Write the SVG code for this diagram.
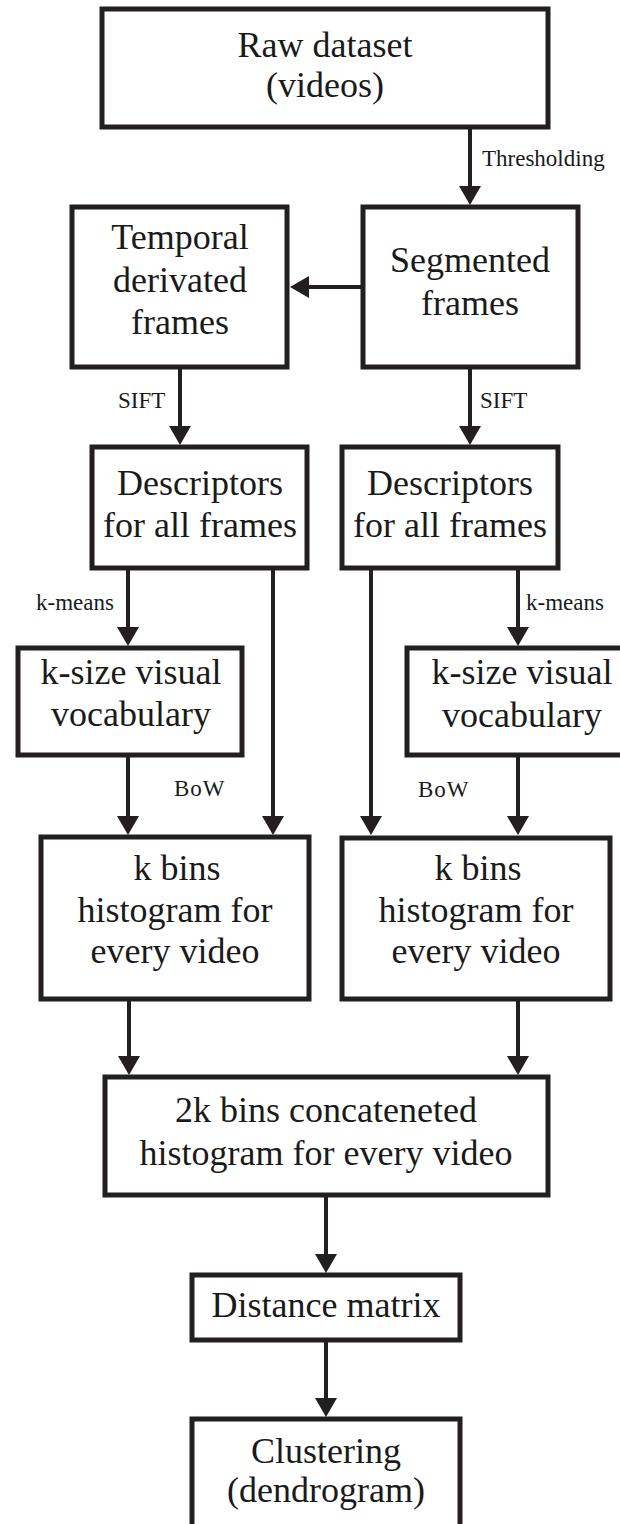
<svg xmlns="http://www.w3.org/2000/svg" width="620" height="1524" viewBox="0 0 620 1524">
  <style>
    .box { fill: #ffffff; stroke: #231f20; stroke-width: 5; }
    .wire { fill: none; stroke: #231f20; stroke-width: 4; }
    .t { font-family: "Liberation Serif", "Times New Roman", serif; font-size: 36px; fill: #1a1a1a; text-anchor: middle; }
    .lbl { font-family: "Liberation Serif", "Times New Roman", serif; font-size: 23px; fill: #1a1a1a; }
  </style>
  <defs>
    <marker id="head" viewBox="0 0 19 22" markerWidth="19" markerHeight="22" markerUnits="userSpaceOnUse" refX="1" refY="11" orient="auto">
      <path d="M0,0 L19,11 L0,22 Z" fill="#231f20"/>
    </marker>
  </defs>
  <rect width="620" height="1524" fill="#ffffff"/>

  <!-- connectors -->
  <g id="connectors">
    <line class="wire" x1="470" y1="127" x2="470" y2="187" marker-end="url(#head)"/>
    <line class="wire" x1="363" y1="287" x2="308" y2="287" marker-end="url(#head)"/>
    <line class="wire" x1="180" y1="367" x2="180" y2="427" marker-end="url(#head)"/>
    <line class="wire" x1="470" y1="367" x2="470" y2="427" marker-end="url(#head)"/>
    <line class="wire" x1="128" y1="568" x2="128" y2="628" marker-end="url(#head)"/>
    <line class="wire" x1="518" y1="568" x2="518" y2="628" marker-end="url(#head)"/>
    <line class="wire" x1="273" y1="568" x2="273" y2="817" marker-end="url(#head)"/>
    <line class="wire" x1="371" y1="568" x2="371" y2="817" marker-end="url(#head)"/>
    <line class="wire" x1="128" y1="755" x2="128" y2="817" marker-end="url(#head)"/>
    <line class="wire" x1="518" y1="755" x2="518" y2="817" marker-end="url(#head)"/>
    <line class="wire" x1="129" y1="999" x2="129" y2="1057" marker-end="url(#head)"/>
    <line class="wire" x1="518" y1="999" x2="518" y2="1057" marker-end="url(#head)"/>
    <line class="wire" x1="326" y1="1195" x2="326" y2="1255" marker-end="url(#head)"/>
    <line class="wire" x1="326" y1="1340" x2="326" y2="1399" marker-end="url(#head)"/>
    <text class="lbl" x="482" y="166">Thresholding</text>
    <text class="lbl" x="118" y="408">SIFT</text>
    <text class="lbl" x="480" y="408">SIFT</text>
    <text class="lbl" x="36" y="610">k-means</text>
    <text class="lbl" x="526" y="610">k-means</text>
    <text class="lbl" x="174" y="796" letter-spacing="1">BoW</text>
    <text class="lbl" x="418" y="797" letter-spacing="1">BoW</text>
  </g>

  <g id="raw">
    <rect class="box" x="102" y="9" width="446" height="118"/>
    <text class="t" x="325" y="57">Raw dataset</text>
    <text class="t" x="325" y="97">(videos)</text>
  </g>

  <g id="temporal">
    <rect class="box" x="72" y="207" width="215" height="160"/>
    <text class="t" x="180" y="249">Temporal</text>
    <text class="t" x="180" y="292">derivated</text>
    <text class="t" x="180" y="334">frames</text>
  </g>

  <g id="segmented">
    <rect class="box" x="363" y="207" width="215" height="160"/>
    <text class="t" x="470" y="272">Segmented</text>
    <text class="t" x="470" y="315">frames</text>
  </g>

  <g id="descriptors-left">
    <rect class="box" x="92" y="447" width="215" height="121"/>
    <text class="t" x="200" y="495">Descriptors</text>
    <text class="t" x="200" y="537">for all frames</text>
  </g>

  <g id="descriptors-right">
    <rect class="box" x="342" y="447" width="216" height="121"/>
    <text class="t" x="450" y="495">Descriptors</text>
    <text class="t" x="450" y="537">for all frames</text>
  </g>

  <g id="vocab-left">
    <rect class="box" x="18" y="648" width="224" height="107"/>
    <text class="t" x="131" y="684">k-size visual</text>
    <text class="t" x="131" y="726">vocabulary</text>
  </g>

  <g id="vocab-right">
    <rect class="box" x="407" y="648" width="230" height="107"/>
    <text class="t" x="522" y="684">k-size visual</text>
    <text class="t" x="522" y="727">vocabulary</text>
  </g>

  <g id="hist-left">
    <rect class="box" x="41" y="837" width="268" height="162"/>
    <text class="t" x="177" y="880">k bins</text>
    <text class="t" x="175" y="922">histogram for</text>
    <text class="t" x="175" y="963">every video</text>
  </g>

  <g id="hist-right">
    <rect class="box" x="342" y="838" width="268" height="161"/>
    <text class="t" x="478" y="880">k bins</text>
    <text class="t" x="476" y="922">histogram for</text>
    <text class="t" x="476" y="963">every video</text>
  </g>

  <g id="concat">
    <rect class="box" x="105" y="1077" width="443" height="118"/>
    <text class="t" x="326" y="1122">2k bins concateneted</text>
    <text class="t" x="326" y="1165">histogram for every video</text>
  </g>

  <g id="distance">
    <rect class="box" x="192" y="1275" width="268" height="65"/>
    <text class="t" x="326" y="1317">Distance matrix</text>
  </g>

  <g id="clustering">
    <rect class="box" x="192" y="1419" width="268" height="120"/>
    <text class="t" x="326" y="1463">Clustering</text>
    <text class="t" x="326" y="1502">(dendrogram)</text>
  </g>
</svg>
